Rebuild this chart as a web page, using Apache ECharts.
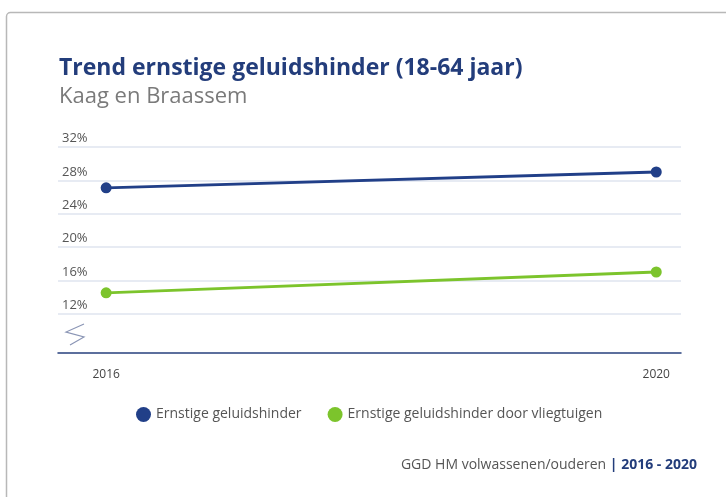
<!DOCTYPE html>
<html>
<head>
<meta charset="utf-8">
<script src="https://cdn.jsdelivr.net/npm/echarts@6/dist/echarts.min.js"></script>
<style>
  html, body { margin: 0; padding: 0; background: #fff; }
  #chart { width: 726px; height: 497px; }
</style>
</head>
<body>
<div id="chart"></div>
<script>
// data
var years = [2016, 2020];
var hinder = [27.1, 29.0];
var vliegtuigen = [14.5, 17.0];
var seriesNames = ["Ernstige geluidshinder", "Ernstige geluidshinder door vliegtuigen"];

var font = "'Open Sans', sans-serif";
var chart = echarts.init(document.getElementById("chart"));

chart.setOption({
  animation: false,
  textStyle: { fontFamily: font },
  grid: { left: 58, right: 45, top: 147, bottom: 150 },
  graphic: [
    // kader
    {
      type: "rect",
      shape: { x: 6.5, y: 12.5, width: 800, height: 600, r: 4 },
      style: { fill: "none", stroke: "#b8b8b8", lineWidth: 1.5 },
      silent: true
    },
    {
      type: "text", left: 59, top: 57,
      style: { text: "Trend ernstige geluidshinder (18-64 jaar)", fill: "#233d7b",
        font: "bold 23px " + font }
    },
    {
      type: "text", left: 59, top: 86,
      style: { text: "Kaag en Braassem", fill: "#7a7a7a", font: "22px " + font }
    },
    // as-breuk
    {
      type: "polyline",
      shape: { points: [[84, 324], [66, 332], [84, 337], [70, 345]] },
      style: { stroke: "#8a95b5", lineWidth: 1.2, fill: null }
    },
    {
      type: "text", right: 29, top: 458,
      style: {
        text: "{a|GGD HM volwassenen/ouderen }{b|| 2016 - 2020}",
        rich: {
          a: { fill: "#555", fontSize: 14, fontFamily: font },
          b: { fill: "#233d7b", fontSize: 14, fontWeight: "bold", fontFamily: font }
        }
      }
    }
  ],
  legend: {
    left: 131, top: 402,
    icon: "circle", itemWidth: 15, itemHeight: 15, itemGap: 26, itemTextGap: 3,
    textStyle: { color: "#555", fontSize: 14, fontFamily: font },
    data: seriesNames
  },
  xAxis: {
    type: "value",
    min: 2015.65, max: 2020.18,
    offset: 6,
    axisLine: { show: true, lineStyle: { color: "#27407e", width: 1.5 } },
    axisTick: { show: false },
    splitLine: { show: false },
    axisLabel: {
      customValues: years, color: "#444", fontSize: 12, margin: 16,
      formatter: function (v) { return String(v); }
    }
  },
  yAxis: {
    type: "value",
    min: 8, max: 32, interval: 4,
    axisLine: { show: false },
    axisTick: { show: false },
    splitLine: { show: true, showMinLine: false, lineStyle: { color: "#dfe4ef", width: 1.5 } },
    axisLabel: {
      inside: true, align: "left", verticalAlign: "bottom", margin: 4,
      padding: [0, 0, 2, 0], showMinLabel: false,
      color: "#555", fontSize: 13,
      formatter: "{value}%"
    }
  },
  series: [
    {
      name: seriesNames[0], type: "line",
      data: years.map(function (y, i) { return [y, hinder[i]]; }),
      symbol: "circle", symbolSize: 11,
      itemStyle: { color: "#213f88" },
      lineStyle: { color: "#213f88", width: 2.8 }
    },
    {
      name: seriesNames[1], type: "line",
      data: years.map(function (y, i) { return [y, vliegtuigen[i]]; }),
      symbol: "circle", symbolSize: 11,
      itemStyle: { color: "#7cc42c" },
      lineStyle: { color: "#7cc42c", width: 2.8 }
    }
  ]
});
</script>
</body>
</html>
